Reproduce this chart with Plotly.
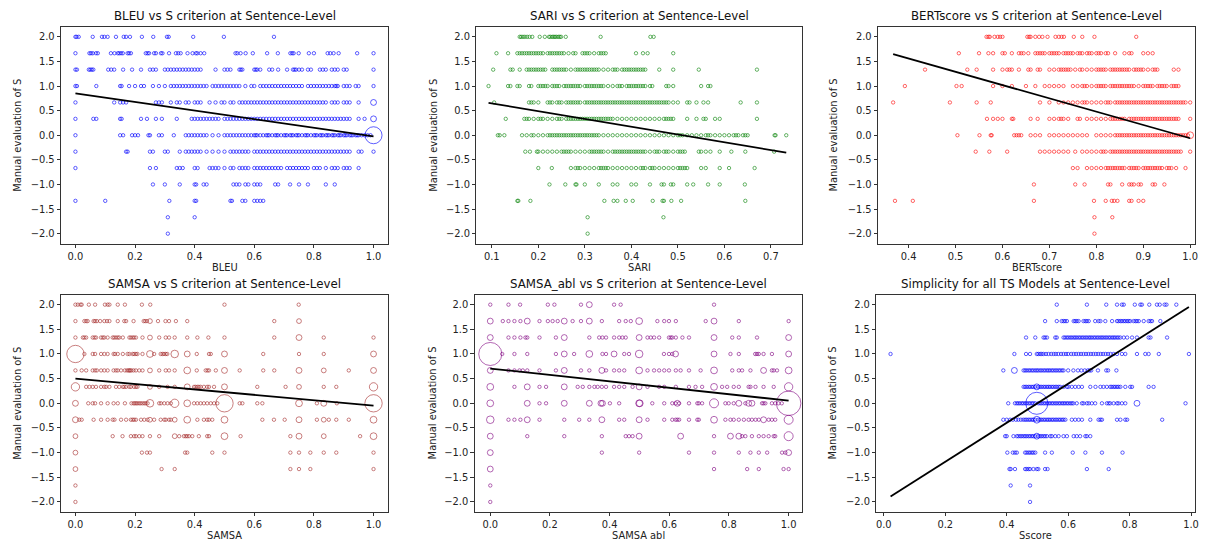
import math
import plotly.graph_objects as go

# ---------------- data ----------------
# manual S levels (rows of the scatter)
s_levels = [2.0, 5/3, 4/3, 1.0, 2/3, 1/3, 0.0, -1/3, -2/3, -1.0, -4/3, -5/3, -2.0]

# BLEU values per S level
bleu_rows = [
    [0, 0.004, 0.011, 0.058, 0.089, 0.097, 0.108, 0.136, 0.162, 0.17, 0.183, 0.223, 0.261, 0.307, 0.313, 0.395, 0.498, 0.666],
    [0, 0.047, 0.052, 0.058, 0.069, 0.075, 0.119, 0.131, 0.142, 0.147, 0.153, 0.159, 0.175, 0.18, 0.186, 0.236, 0.242, 0.247, 0.264, 0.27, 0.287, 0.292, 0.314, 0.337, 0.345, 0.353, 0.376, 0.393, 0.404, 0.409, 0.42, 0.432, 0.537, 0.543, 0.554, 0.571, 0.595, 0.643, 0.679, 0.721, 0.727, 0.732, 0.749, 0.783, 0.8, 0.846, 0.855, 0.866, 0.883, 0.945, 1.0],
    [0, 0.005, 0.045, 0.05, 0.055, 0.06, 0.11, 0.12, 0.13, 0.16, 0.19, 0.22, 0.25, 0.26, 0.27, 0.3, 0.31, 0.32, 0.33, 0.34, 0.35, 0.36, 0.37, 0.38, 0.39, 0.4, 0.41, 0.42, 0.47, 0.5, 0.51, 0.52, 0.55, 0.555, 0.56, 0.6, 0.605, 0.61, 0.62, 0.65, 0.66, 0.68, 0.71, 0.73, 0.735, 0.74, 0.75, 0.76, 0.78, 0.79, 0.82, 0.83, 0.84, 0.86, 0.87, 0.88, 0.9, 0.91, 1.0],
    [0, 0.005, 0.07, 0.15, 0.155, 0.18, 0.2, 0.22, 0.23, 0.26, 0.28, 0.3, 0.32, 0.33, 0.34, 0.35, 0.36, 0.37, 0.38, 0.39, 0.4, 0.41, 0.42, 0.43, 0.44, 0.46, 0.47, 0.48, 0.49, 0.5, 0.51, 0.52, 0.53, 0.54, 0.55, 0.57, 0.59, 0.6, 0.62, 0.63, 0.64, 0.65, 0.66, 0.67, 0.68, 0.69, 0.7, 0.71, 0.72, 0.73, 0.74, 0.75, 0.76, 0.78, 0.79, 0.8, 0.81, 0.82, 0.83, 0.84, 0.85, 0.86, 0.87, 0.875, 0.88, 0.9, 0.91, 0.92, 0.94, 0.95, 1.0],
    [0, 0.13, 0.15, 0.16, 0.17, 0.27, 0.28, 0.29, 0.32, 0.34, 0.35, 0.37, 0.38, 0.4, 0.41, 0.42, 0.45, 0.47, 0.49, 0.5, 0.52, 0.53, 0.55, 0.56, 0.57, 0.58, 0.59, 0.6, 0.61, 0.62, 0.63, 0.64, 0.65, 0.66, 0.67, 0.68, 0.69, 0.7, 0.71, 0.72, 0.73, 0.74, 0.75, 0.76, 0.77, 0.78, 0.79, 0.8, 0.81, 0.82, 0.83, 0.84, 0.86, 0.87, 0.88, 0.9, 0.91, 0.92, 0.95, 1.0],
    [0, 0.06, 0.07, 0.15, 0.155, 0.22, 0.24, 0.27, 0.29, 0.34, 0.39, 0.4, 0.41, 0.42, 0.43, 0.44, 0.45, 0.46, 0.47, 0.48, 0.5, 0.51, 0.52, 0.53, 0.54, 0.55, 0.56, 0.57, 0.58, 0.59, 0.6, 0.61, 0.62, 0.63, 0.64, 0.65, 0.66, 0.67, 0.68, 0.69, 0.7, 0.71, 0.72, 0.73, 0.74, 0.75, 0.76, 0.77, 0.78, 0.79, 0.8, 0.81, 0.82, 0.83, 0.84, 0.85, 0.86, 0.87, 0.88, 0.89, 0.9, 0.91, 0.92, 0.95, 0.97, 1.0],
    [0, 0.15, 0.16, 0.19, 0.2, 0.21, 0.245, 0.25, 0.28, 0.29, 0.33, 0.37, 0.38, 0.39, 0.4, 0.41, 0.42, 0.43, 0.44, 0.46, 0.48, 0.5, 0.51, 0.52, 0.53, 0.54, 0.55, 0.56, 0.57, 0.58, 0.59, 0.6, 0.605, 0.61, 0.62, 0.63, 0.64, 0.645, 0.65, 0.66, 0.67, 0.675, 0.68, 0.69, 0.7, 0.705, 0.71, 0.72, 0.725, 0.73, 0.74, 0.745, 0.75, 0.76, 0.77, 0.775, 0.78, 0.79, 0.8, 0.805, 0.81, 0.82, 0.825, 0.83, 0.84, 0.845, 0.85, 0.86, 0.865, 0.87, 0.88, 0.885, 0.89, 0.9, 0.905, 0.91, 0.92, 0.925, 0.93, 0.94, 0.945, 0.95, 0.96, 0.97, 0.98, 0.99, 1.0],
    [0, 0.17, 0.175, 0.25, 0.26, 0.3, 0.31, 0.35, 0.37, 0.38, 0.39, 0.4, 0.41, 0.42, 0.44, 0.46, 0.48, 0.5, 0.52, 0.53, 0.54, 0.55, 0.56, 0.57, 0.58, 0.6, 0.61, 0.62, 0.63, 0.64, 0.65, 0.66, 0.67, 0.68, 0.69, 0.7, 0.71, 0.72, 0.73, 0.74, 0.75, 0.76, 0.77, 0.78, 0.79, 0.8, 0.81, 0.82, 0.83, 0.84, 0.85, 0.86, 0.87, 0.88, 0.89, 0.9, 0.91, 0.92, 0.95, 0.96, 1.0],
    [0, 0.25, 0.27, 0.34, 0.35, 0.36, 0.4, 0.41, 0.45, 0.46, 0.47, 0.48, 0.5, 0.52, 0.53, 0.55, 0.56, 0.57, 0.58, 0.6, 0.61, 0.62, 0.63, 0.64, 0.65, 0.66, 0.67, 0.68, 0.69, 0.71, 0.72, 0.73, 0.74, 0.75, 0.76, 0.77, 0.78, 0.8, 0.81, 0.82, 0.84, 0.86, 0.87, 0.88, 0.9, 0.91, 0.92, 0.95],
    [0.26, 0.3, 0.35, 0.4, 0.405, 0.43, 0.44, 0.53, 0.54, 0.55, 0.57, 0.58, 0.6, 0.61, 0.62, 0.67, 0.68, 0.72, 0.75, 0.78, 0.84, 0.87],
    [0, 0.1, 0.315, 0.4, 0.405, 0.52, 0.525, 0.56, 0.57, 0.6, 0.61, 0.62, 0.63],
    [0.31, 0.4],
    [0.31],
]
bleu_multi_x = [1.0, 1.0, 1.0]
bleu_multi_y = [0.0, 2/3, 1/3]
bleu_multi_n = [25, 3, 3]

# SARI values per S level
sari_rows = [
    [0.16, 0.163, 0.167, 0.171, 0.176, 0.181, 0.187, 0.203, 0.214, 0.223, 0.226, 0.23, 0.233, 0.236, 0.239, 0.243, 0.246, 0.249, 0.259, 0.334, 0.441, 0.448],
    [0.11, 0.135, 0.155, 0.16, 0.165, 0.17, 0.175, 0.18, 0.185, 0.19, 0.195, 0.2, 0.205, 0.21, 0.22, 0.225, 0.23, 0.235, 0.24, 0.245, 0.25, 0.255, 0.265, 0.275, 0.28, 0.295, 0.3, 0.305, 0.31, 0.32, 0.33, 0.335, 0.34, 0.345, 0.41, 0.425, 0.435, 0.49],
    [0.103, 0.14, 0.145, 0.16, 0.175, 0.18, 0.185, 0.19, 0.195, 0.2, 0.205, 0.21, 0.215, 0.23, 0.235, 0.24, 0.245, 0.25, 0.255, 0.26, 0.27, 0.28, 0.285, 0.29, 0.295, 0.3, 0.305, 0.31, 0.315, 0.32, 0.325, 0.33, 0.34, 0.35, 0.36, 0.365, 0.37, 0.38, 0.385, 0.39, 0.395, 0.4, 0.405, 0.41, 0.415, 0.42, 0.425, 0.43, 0.46, 0.49, 0.545, 0.67],
    [0.093, 0.135, 0.14, 0.155, 0.16, 0.18, 0.185, 0.2, 0.205, 0.21, 0.215, 0.22, 0.23, 0.235, 0.24, 0.245, 0.255, 0.26, 0.265, 0.27, 0.275, 0.28, 0.285, 0.29, 0.3, 0.305, 0.31, 0.315, 0.32, 0.325, 0.33, 0.335, 0.34, 0.35, 0.36, 0.37, 0.375, 0.38, 0.39, 0.395, 0.4, 0.405, 0.41, 0.415, 0.42, 0.425, 0.43, 0.44, 0.445, 0.475, 0.48, 0.49, 0.55, 0.565, 0.57],
    [0.105, 0.18, 0.185, 0.19, 0.2, 0.22, 0.225, 0.23, 0.24, 0.245, 0.25, 0.26, 0.265, 0.27, 0.275, 0.28, 0.285, 0.29, 0.3, 0.305, 0.31, 0.315, 0.32, 0.325, 0.33, 0.335, 0.34, 0.345, 0.35, 0.355, 0.36, 0.365, 0.37, 0.375, 0.38, 0.385, 0.39, 0.395, 0.4, 0.405, 0.41, 0.415, 0.42, 0.425, 0.43, 0.435, 0.44, 0.445, 0.45, 0.455, 0.46, 0.465, 0.47, 0.475, 0.48, 0.49, 0.5, 0.52, 0.525, 0.54, 0.555, 0.565, 0.635, 0.67],
    [0.13, 0.17, 0.175, 0.18, 0.19, 0.2, 0.205, 0.21, 0.22, 0.23, 0.24, 0.245, 0.25, 0.26, 0.265, 0.27, 0.275, 0.28, 0.285, 0.29, 0.295, 0.3, 0.305, 0.31, 0.315, 0.32, 0.325, 0.33, 0.335, 0.34, 0.345, 0.35, 0.355, 0.36, 0.37, 0.38, 0.39, 0.4, 0.41, 0.42, 0.43, 0.44, 0.45, 0.46, 0.47, 0.475, 0.48, 0.485, 0.49, 0.52, 0.54, 0.555, 0.56, 0.58, 0.59, 0.67],
    [0.113, 0.117, 0.127, 0.165, 0.175, 0.185, 0.19, 0.2, 0.21, 0.22, 0.225, 0.23, 0.235, 0.24, 0.245, 0.25, 0.255, 0.26, 0.265, 0.27, 0.275, 0.28, 0.285, 0.29, 0.295, 0.3, 0.305, 0.31, 0.315, 0.32, 0.325, 0.33, 0.34, 0.35, 0.36, 0.37, 0.38, 0.39, 0.4, 0.41, 0.42, 0.43, 0.44, 0.45, 0.46, 0.47, 0.48, 0.49, 0.5, 0.505, 0.51, 0.52, 0.53, 0.54, 0.55, 0.56, 0.565, 0.57, 0.58, 0.59, 0.6, 0.61, 0.62, 0.625, 0.63, 0.64, 0.645, 0.65, 0.708, 0.71, 0.733],
    [0.172, 0.182, 0.197, 0.2, 0.21, 0.22, 0.23, 0.24, 0.25, 0.255, 0.26, 0.265, 0.27, 0.28, 0.29, 0.3, 0.31, 0.315, 0.32, 0.325, 0.33, 0.335, 0.34, 0.35, 0.36, 0.365, 0.37, 0.375, 0.38, 0.385, 0.39, 0.395, 0.4, 0.405, 0.41, 0.415, 0.42, 0.425, 0.43, 0.44, 0.45, 0.455, 0.46, 0.47, 0.475, 0.48, 0.49, 0.5, 0.505, 0.51, 0.515, 0.545, 0.55, 0.56, 0.57, 0.59, 0.615, 0.645, 0.707],
    [0.2, 0.229, 0.27, 0.28, 0.285, 0.29, 0.3, 0.31, 0.32, 0.33, 0.335, 0.34, 0.345, 0.35, 0.36, 0.37, 0.38, 0.39, 0.4, 0.41, 0.42, 0.425, 0.43, 0.44, 0.445, 0.45, 0.46, 0.47, 0.48, 0.49, 0.5, 0.505, 0.51, 0.515, 0.52, 0.55, 0.56, 0.59, 0.61, 0.665],
    [0.224, 0.258, 0.28, 0.282, 0.3, 0.33, 0.36, 0.37, 0.4, 0.41, 0.44, 0.465, 0.47, 0.485, 0.49, 0.52, 0.533, 0.565, 0.59, 0.644],
    [0.155, 0.157, 0.183, 0.342, 0.362, 0.37, 0.388, 0.403, 0.446, 0.467, 0.47, 0.486, 0.507, 0.645],
    [0.306, 0.469],
    [0.306],
]
sari_multi_x = []
sari_multi_y = []
sari_multi_n = []

# BERTscore values per S level
bert_rows = [
    [0.566, 0.57, 0.573, 0.583, 0.59, 0.595, 0.6, 0.653, 0.657, 0.66, 0.67, 0.678, 0.685, 0.696, 0.713, 0.72, 0.726, 0.731, 0.752, 0.77, 0.796, 0.885],
    [0.507, 0.55, 0.57, 0.58, 0.6, 0.605, 0.62, 0.635, 0.64, 0.645, 0.655, 0.67, 0.675, 0.68, 0.685, 0.69, 0.7, 0.705, 0.71, 0.715, 0.72, 0.73, 0.735, 0.74, 0.745, 0.75, 0.76, 0.765, 0.77, 0.78, 0.785, 0.79, 0.8, 0.805, 0.81, 0.82, 0.825, 0.84, 0.86, 0.87, 0.875, 0.9, 0.91, 0.92],
    [0.435, 0.525, 0.545, 0.58, 0.6, 0.61, 0.615, 0.62, 0.635, 0.655, 0.66, 0.675, 0.68, 0.7, 0.71, 0.72, 0.725, 0.73, 0.735, 0.74, 0.745, 0.755, 0.765, 0.77, 0.78, 0.79, 0.8, 0.805, 0.81, 0.815, 0.82, 0.83, 0.835, 0.84, 0.845, 0.85, 0.855, 0.86, 0.865, 0.87, 0.88, 0.885, 0.89, 0.895, 0.9, 0.91, 0.92, 0.925, 0.93, 0.965, 0.975],
    [0.392, 0.502, 0.513, 0.58, 0.6, 0.62, 0.65, 0.67, 0.69, 0.7, 0.71, 0.72, 0.73, 0.75, 0.76, 0.77, 0.775, 0.78, 0.79, 0.8, 0.805, 0.81, 0.815, 0.82, 0.83, 0.835, 0.84, 0.845, 0.85, 0.855, 0.86, 0.865, 0.87, 0.875, 0.88, 0.89, 0.9, 0.905, 0.91, 0.915, 0.92, 0.93, 0.935, 0.94, 0.945, 0.95, 0.96, 0.965, 0.97, 0.975],
    [0.367, 0.488, 0.545, 0.575, 0.68, 0.7, 0.72, 0.73, 0.74, 0.75, 0.76, 0.77, 0.775, 0.78, 0.79, 0.8, 0.81, 0.82, 0.825, 0.83, 0.84, 0.845, 0.85, 0.855, 0.86, 0.865, 0.87, 0.875, 0.88, 0.885, 0.89, 0.895, 0.9, 0.905, 0.91, 0.915, 0.92, 0.925, 0.93, 0.935, 0.94, 0.945, 0.95, 0.955, 0.96, 0.965, 0.97, 0.975, 0.98, 0.985, 0.99, 1.0],
    [0.567, 0.58, 0.59, 0.6, 0.62, 0.623, 0.66, 0.675, 0.7, 0.71, 0.72, 0.725, 0.73, 0.74, 0.76, 0.765, 0.78, 0.79, 0.8, 0.81, 0.82, 0.83, 0.835, 0.84, 0.845, 0.85, 0.855, 0.86, 0.87, 0.875, 0.88, 0.885, 0.89, 0.895, 0.9, 0.905, 0.91, 0.915, 0.92, 0.925, 0.93, 0.935, 0.94, 0.945, 0.95, 0.955, 0.96, 0.965, 0.97, 0.975, 1.0],
    [0.504, 0.551, 0.575, 0.577, 0.625, 0.63, 0.635, 0.64, 0.66, 0.67, 0.68, 0.7, 0.71, 0.72, 0.73, 0.74, 0.75, 0.76, 0.77, 0.78, 0.8, 0.81, 0.82, 0.83, 0.84, 0.845, 0.85, 0.855, 0.86, 0.865, 0.87, 0.875, 0.88, 0.885, 0.89, 0.895, 0.9, 0.905, 0.91, 0.915, 0.92, 0.925, 0.93, 0.935, 0.94, 0.945, 0.95, 0.955, 0.96, 0.965, 0.97, 0.975, 0.98, 0.985, 0.99, 0.995, 1.0],
    [0.543, 0.572, 0.61, 0.68, 0.69, 0.7, 0.71, 0.72, 0.73, 0.74, 0.755, 0.77, 0.78, 0.79, 0.8, 0.81, 0.815, 0.82, 0.83, 0.835, 0.84, 0.845, 0.85, 0.855, 0.86, 0.865, 0.87, 0.875, 0.88, 0.885, 0.89, 0.895, 0.9, 0.905, 0.91, 0.915, 0.92, 0.925, 0.93, 0.935, 0.94, 0.945, 0.95, 0.955, 0.96, 0.965, 0.97, 0.975, 0.98, 1.0],
    [0.75, 0.76, 0.78, 0.79, 0.8, 0.81, 0.82, 0.825, 0.83, 0.835, 0.84, 0.845, 0.85, 0.855, 0.86, 0.87, 0.875, 0.88, 0.885, 0.89, 0.9, 0.905, 0.91, 0.915, 0.92, 0.925, 0.93, 0.935, 0.94, 0.95, 0.955, 0.96, 0.97, 0.99],
    [0.667, 0.755, 0.775, 0.825, 0.83, 0.855, 0.87, 0.875, 0.88, 0.89, 0.895, 0.92, 0.925, 0.945],
    [0.371, 0.409, 0.667, 0.795, 0.82, 0.833, 0.838, 0.845, 0.87, 0.875, 0.89, 0.9],
    [0.796, 0.834],
    [0.796],
]
bert_multi_x = [1.0]
bert_multi_y = [0.0]
bert_multi_n = [4]

# SAMSA values per S level
samsa_rows = [
    [0, 0.008, 0.017, 0.021, 0.045, 0.066, 0.099, 0.108, 0.114, 0.142, 0.166, 0.223, 0.251, 0.5, 0.749],
    [0, 0.03, 0.036, 0.041, 0.061, 0.066, 0.072, 0.083, 0.097, 0.106, 0.114, 0.142, 0.164, 0.17, 0.195, 0.229, 0.234, 0.24, 0.25, 0.277, 0.302, 0.314, 0.337, 0.375, 0.667, 0.75],
    [0, 0.025, 0.03, 0.036, 0.058, 0.064, 0.069, 0.086, 0.092, 0.097, 0.108, 0.125, 0.13, 0.136, 0.142, 0.147, 0.159, 0.181, 0.186, 0.192, 0.197, 0.203, 0.225, 0.25, 0.281, 0.303, 0.314, 0.333, 0.375, 0.409, 0.446, 0.5, 0.667, 0.75, 0.833, 1.0],
    [0, 0.03, 0.058, 0.066, 0.086, 0.097, 0.108, 0.128, 0.133, 0.142, 0.159, 0.175, 0.181, 0.192, 0.197, 0.203, 0.208, 0.225, 0.25, 0.264, 0.286, 0.292, 0.297, 0.303, 0.308, 0.333, 0.375, 0.407, 0.448, 0.454, 0.5, 0.63, 0.75, 0.833, 1.0],
    [0, 0.021, 0.036, 0.058, 0.066, 0.072, 0.086, 0.097, 0.108, 0.128, 0.136, 0.142, 0.153, 0.166, 0.173, 0.178, 0.181, 0.184, 0.188, 0.195, 0.203, 0.214, 0.225, 0.25, 0.281, 0.303, 0.314, 0.333, 0.375, 0.407, 0.437, 0.443, 0.448, 0.471, 0.5, 0.551, 0.63, 0.667, 0.75, 0.833, 0.917, 1.0],
    [0, 0.036, 0.047, 0.058, 0.069, 0.086, 0.097, 0.103, 0.114, 0.136, 0.147, 0.159, 0.164, 0.17, 0.181, 0.186, 0.197, 0.203, 0.208, 0.25, 0.281, 0.309, 0.333, 0.375, 0.398, 0.403, 0.409, 0.414, 0.42, 0.431, 0.442, 0.448, 0.465, 0.5, 0.61, 0.705, 0.75, 0.833, 0.875, 1.0],
    [0, 0.043, 0.058, 0.066, 0.086, 0.108, 0.128, 0.142, 0.166, 0.188, 0.195, 0.199, 0.204, 0.208, 0.214, 0.219, 0.225, 0.231, 0.236, 0.242, 0.25, 0.281, 0.287, 0.298, 0.309, 0.32, 0.333, 0.375, 0.398, 0.409, 0.42, 0.431, 0.442, 0.454, 0.465, 0.476, 0.5, 0.551, 0.56, 0.61, 0.627, 0.75, 0.81, 0.833, 0.877, 1.0],
    [0, 0.013, 0.021, 0.061, 0.086, 0.108, 0.125, 0.131, 0.153, 0.17, 0.186, 0.192, 0.197, 0.203, 0.22, 0.231, 0.242, 0.25, 0.264, 0.286, 0.298, 0.303, 0.314, 0.32, 0.333, 0.375, 0.409, 0.431, 0.442, 0.448, 0.459, 0.5, 0.627, 0.666, 0.702, 0.75, 0.81, 0.833, 0.85, 0.875, 0.917, 1.0],
    [0, 0.125, 0.158, 0.186, 0.197, 0.203, 0.214, 0.225, 0.25, 0.281, 0.333, 0.348, 0.364, 0.37, 0.375, 0.381, 0.392, 0.414, 0.442, 0.448, 0.5, 0.554, 0.721, 0.75, 0.833, 0.955, 1.0],
    [0, 0.223, 0.24, 0.25, 0.368, 0.375, 0.459, 0.5, 0.721, 0.75, 0.788, 0.833, 0.875, 1.0],
    [0, 0.289, 0.333, 0.721, 0.75, 0.788, 1.0],
    [0],
    [0],
]
samsa_multi_x = [0, 0, 0, 0, 0, 0, 0,
                 0.25, 0.25, 0.25, 0.25, 0.25, 0.25, 0.25,
                 0.333, 0.333, 0.333, 0.333,
                 0.375, 0.375, 0.375, 0.375, 0.375,
                 0.5, 0.5, 0.5, 0.5, 0.5, 0.5,
                 0.75, 0.75, 0.75, 0.75, 0.75, 0.75, 0.75,
                 0.833, 0.833, 0.833, 0.833,
                 1.0, 1.0, 1.0, 1.0, 1.0, 1.0]
samsa_multi_y = [1.0, 1/3, 0.0, -1/3, -2/3, -1.0, -4/3,
                 5/3, 4/3, 1.0, 2/3, 1/3, 0.0, -1/3,
                 1.0, 0.0, -1/3, -2/3,
                 1.0, 2/3, 1/3, 0.0, -1/3,
                 1.0, 2/3, 1/3, 0.0, -1/3, -2/3,
                 5/3, 4/3, 2/3, 1/3, 0.0, -1/3, -2/3,
                 2/3, 0.0, -1/3, -2/3,
                 1.0, 2/3, 1/3, 0.0, -1/3, -2/3]
samsa_multi_n = [26, 6, 3, 3, 2, 2, 2,
                 2, 2, 4, 2, 2, 5, 2,
                 5, 6, 2, 2,
                 3, 4, 3, 4, 4,
                 3, 3, 3, 26, 4, 4,
                 2, 3, 3, 2, 4, 3, 3,
                 2, 3, 2, 2,
                 3, 3, 6, 26, 4, 4]

# SAMSA abl values per S level
abl_rows = [
    [0, 0.061, 0.1, 0.193, 0.215, 0.304, 0.332, 0.415, 0.437, 0.75],
    [0, 0.042, 0.061, 0.081, 0.101, 0.124, 0.165, 0.193, 0.209, 0.226, 0.248, 0.276, 0.304, 0.332, 0.374, 0.432, 0.454, 0.471, 0.499, 0.56, 0.583, 0.599, 0.622, 0.722, 0.75, 0.833, 1.0],
    [0, 0.061, 0.081, 0.101, 0.118, 0.124, 0.165, 0.22, 0.248, 0.332, 0.365, 0.376, 0.388, 0.415, 0.432, 0.443, 0.454, 0.499, 0.527, 0.538, 0.549, 0.566, 0.599, 0.605, 0.61, 0.622, 0.644, 0.666, 0.75, 0.811, 0.833, 0.894, 1.0],
    [0, 0.04, 0.081, 0.124, 0.22, 0.248, 0.281, 0.332, 0.376, 0.388, 0.415, 0.449, 0.465, 0.499, 0.582, 0.599, 0.61, 0.621, 0.75, 0.805, 0.833, 0.888, 0.894, 0.9, 0.916, 0.944, 1.0],
    [0, 0.061, 0.081, 0.098, 0.109, 0.124, 0.165, 0.22, 0.248, 0.304, 0.332, 0.374, 0.388, 0.415, 0.432, 0.449, 0.499, 0.527, 0.549, 0.566, 0.583, 0.599, 0.622, 0.638, 0.666, 0.705, 0.75, 0.811, 0.833, 0.844, 0.872, 0.916, 0.944, 0.95, 0.961, 1.0],
    [0, 0.081, 0.124, 0.165, 0.187, 0.248, 0.293, 0.31, 0.332, 0.349, 0.36, 0.374, 0.388, 0.415, 0.432, 0.449, 0.477, 0.499, 0.527, 0.566, 0.583, 0.622, 0.666, 0.688, 0.71, 0.75, 0.777, 0.794, 0.816, 0.833, 0.866, 0.872, 0.889, 0.916, 0.95, 1.0],
    [0, 0.124, 0.165, 0.187, 0.248, 0.332, 0.371, 0.376, 0.401, 0.432, 0.499, 0.501, 0.543, 0.583, 0.61, 0.621, 0.627, 0.633, 0.666, 0.694, 0.699, 0.71, 0.75, 0.788, 0.799, 0.816, 0.833, 0.855, 0.866, 0.877, 0.911, 0.916, 0.922, 0.944, 0.955, 0.966, 0.977, 1.0],
    [0, 0.061, 0.081, 0.101, 0.124, 0.165, 0.248, 0.298, 0.332, 0.374, 0.432, 0.449, 0.499, 0.527, 0.583, 0.61, 0.621, 0.627, 0.633, 0.666, 0.694, 0.699, 0.75, 0.788, 0.805, 0.816, 0.833, 0.85, 0.866, 0.877, 0.889, 0.9, 0.916, 0.933, 0.944, 0.955, 1.0],
    [0, 0.124, 0.248, 0.374, 0.454, 0.465, 0.477, 0.499, 0.638, 0.75, 0.805, 0.833, 0.844, 0.855, 0.877, 0.9, 0.916, 0.933, 0.95, 0.955, 1.0],
    [0, 0.374, 0.499, 0.666, 0.75, 0.833, 0.872, 0.9, 0.928, 0.978, 0.989, 1.0],
    [0, 0.75, 0.861, 0.9, 0.983, 1.0],
    [0],
    [0],
]
abl_multi_x = [0, 0, 0, 0, 0, 0, 0, 0, 0, 0,
               0.124, 0.124, 0.124, 0.124,
               0.248, 0.248, 0.248, 0.248, 0.248, 0.248,
               0.332, 0.332, 0.332, 0.332,
               0.374, 0.374, 0.374, 0.415,
               0.499, 0.499, 0.499, 0.499, 0.499, 0.499, 0.499, 0.499,
               0.621, 0.627, 0.638,
               0.75, 0.75, 0.75, 0.75, 0.75, 0.75, 0.75,
               0.805, 0.833, 0.833, 0.866, 0.877, 0.916, 0.916,
               1.0, 1.0, 1.0, 1.0, 1.0, 1.0, 1.0, 1.0]
abl_multi_y = [1.0, 5/3, 4/3, 2/3, 1/3, 0.0, -1/3, -2/3, -1.0, -4/3,
               5/3, 1/3, 0.0, -1/3,
               5/3, 4/3, 1.0, 2/3, 1/3, 0.0,
               2.0, 5/3, 1.0, 0.0,
               2/3, 0.0, -1/3, 1.0,
               5/3, 4/3, 1.0, 2/3, 1/3, 0.0, -1/3, -2/3,
               1.0, 0.0, -2/3,
               5/3, 4/3, 1.0, 2/3, 1/3, 0.0, -1/3,
               -2/3, 0.0, -2/3, 0.0, 0.0, 2/3, -1/3,
               0.0, 4/3, 1.0, 2/3, 1/3, -1/3, -2/3, -1.0]
abl_multi_n = [46, 3, 3, 3, 4, 4, 5, 3, 3, 3,
               3, 3, 3, 3,
               3, 3, 3, 3, 3, 3,
               3, 3, 4, 3,
               3, 3, 3, 3,
               4, 3, 5, 4, 3, 4, 3, 3,
               3, 3, 3,
               3, 3, 3, 4, 4, 7, 4,
               3, 3, 3, 3, 3, 3, 3,
               52, 3, 3, 4, 6, 7, 7, 3]

# Sscore values per S level
sscore_rows = [
    [0.563, 0.661, 0.724, 0.759, 0.775, 0.781, 0.817, 0.835, 0.84, 0.864, 0.889, 0.898, 0.914, 0.92, 0.952],
    [0.525, 0.563, 0.579, 0.585, 0.59, 0.596, 0.618, 0.623, 0.628, 0.634, 0.65, 0.656, 0.661, 0.667, 0.688, 0.699, 0.705, 0.721, 0.743, 0.759, 0.764, 0.77, 0.775, 0.781, 0.786, 0.792, 0.797, 0.802, 0.813, 0.819, 0.824, 0.83, 0.846, 0.862, 0.868, 0.873, 0.9],
    [0.463, 0.493, 0.52, 0.525, 0.531, 0.558, 0.563, 0.585, 0.59, 0.596, 0.601, 0.607, 0.612, 0.618, 0.623, 0.628, 0.634, 0.639, 0.645, 0.65, 0.656, 0.661, 0.667, 0.672, 0.677, 0.683, 0.688, 0.694, 0.699, 0.705, 0.71, 0.715, 0.721, 0.726, 0.732, 0.737, 0.743, 0.748, 0.753, 0.759, 0.764, 0.77, 0.781, 0.792, 0.808, 0.824, 0.862, 0.868, 0.922],
    [0.022, 0.425, 0.463, 0.476, 0.498, 0.503, 0.509, 0.514, 0.52, 0.528, 0.536, 0.545, 0.553, 0.56, 0.568, 0.577, 0.585, 0.593, 0.6, 0.61, 0.618, 0.626, 0.634, 0.642, 0.65, 0.658, 0.666, 0.674, 0.682, 0.69, 0.698, 0.706, 0.714, 0.722, 0.73, 0.738, 0.748, 0.759, 0.775, 0.786, 0.824, 0.851, 0.862, 0.895, 0.993],
    [0.389, 0.425, 0.455, 0.46, 0.465, 0.471, 0.476, 0.482, 0.487, 0.493, 0.498, 0.503, 0.509, 0.514, 0.52, 0.525, 0.531, 0.536, 0.541, 0.547, 0.552, 0.558, 0.563, 0.569, 0.574, 0.58, 0.585, 0.6, 0.617, 0.632, 0.643, 0.654, 0.664, 0.67, 0.675, 0.697, 0.724, 0.73, 0.757],
    [0.455, 0.46, 0.465, 0.471, 0.476, 0.482, 0.487, 0.493, 0.498, 0.503, 0.509, 0.514, 0.52, 0.525, 0.531, 0.536, 0.541, 0.547, 0.552, 0.558, 0.563, 0.569, 0.574, 0.585, 0.596, 0.601, 0.612, 0.623, 0.634, 0.645, 0.672, 0.689, 0.705, 0.715, 0.726, 0.737, 0.742, 0.748, 0.753, 0.759, 0.764, 0.77, 0.786, 0.802, 0.808, 0.862, 0.878],
    [0.405, 0.427, 0.433, 0.438, 0.443, 0.449, 0.454, 0.46, 0.465, 0.471, 0.476, 0.482, 0.487, 0.493, 0.498, 0.503, 0.509, 0.514, 0.52, 0.525, 0.531, 0.536, 0.541, 0.547, 0.552, 0.558, 0.563, 0.569, 0.574, 0.58, 0.585, 0.59, 0.596, 0.601, 0.607, 0.612, 0.617, 0.628, 0.645, 0.65, 0.661, 0.667, 0.677, 0.688, 0.71, 0.726, 0.732, 0.737, 0.748, 0.759, 0.764, 0.775, 0.786, 0.824, 0.982],
    [0.389, 0.4, 0.411, 0.42, 0.43, 0.438, 0.446, 0.454, 0.46, 0.465, 0.471, 0.476, 0.482, 0.487, 0.493, 0.498, 0.503, 0.509, 0.514, 0.52, 0.525, 0.531, 0.536, 0.541, 0.547, 0.552, 0.558, 0.563, 0.569, 0.574, 0.58, 0.585, 0.591, 0.612, 0.623, 0.634, 0.645, 0.672, 0.699, 0.705, 0.71, 0.759, 0.77, 0.786, 0.792, 0.906],
    [0.395, 0.4, 0.422, 0.433, 0.438, 0.444, 0.449, 0.455, 0.46, 0.465, 0.471, 0.476, 0.482, 0.487, 0.493, 0.498, 0.503, 0.509, 0.514, 0.52, 0.525, 0.531, 0.542, 0.547, 0.558, 0.569, 0.585, 0.596, 0.618, 0.628, 0.639, 0.656, 0.661, 0.672],
    [0.402, 0.42, 0.427, 0.433, 0.46, 0.465, 0.471, 0.476, 0.482, 0.487, 0.493, 0.525, 0.547, 0.615, 0.656, 0.71, 0.777],
    [0.409, 0.413, 0.427, 0.46, 0.465, 0.471, 0.476, 0.487, 0.498, 0.503, 0.525, 0.533, 0.661, 0.732],
    [0.413, 0.476],
    [0.476],
]
sscore_multi_x = [0.498, 0.498, 0.498, 0.498, 0.425, 0.824]
sscore_multi_y = [0.0, -1/3, -2/3, 1/3, 2/3, 0.0]
sscore_multi_n = [42, 4, 3, 3, 3, 3]

# fitted regression lines (slope, intercept)
fit_slope = [-0.877, -1.58, -2.701, -0.547, -0.651, 3.957]
fit_intercept = [0.853, 0.805, 2.64, 0.5, 0.705, -1.977]

titles = ["BLEU vs S criterion at Sentence-Level",
          "SARI vs S criterion at Sentence-Level",
          "BERTscore vs S criterion at Sentence-Level",
          "SAMSA vs S criterion at Sentence-Level",
          "SAMSA_abl vs S criterion at Sentence-Level",
          "Simplicity for all TS Models at Sentence-Level"]
xlabels = ["BLEU", "SARI", "BERTscore", "SAMSA", "SAMSA abl", "Sscore"]
ylabel = "Manual evaluation of S"
y_ticks = [-2.0, -1.5, -1.0, -0.5, 0.0, 0.5, 1.0, 1.5, 2.0]
x_ticks = [[0.0, 0.2, 0.4, 0.6, 0.8, 1.0],
           [0.1, 0.2, 0.3, 0.4, 0.5, 0.6, 0.7],
           [0.4, 0.5, 0.6, 0.7, 0.8, 0.9, 1.0],
           [0.0, 0.2, 0.4, 0.6, 0.8, 1.0],
           [0.0, 0.2, 0.4, 0.6, 0.8, 1.0],
           [0.0, 0.2, 0.4, 0.6, 0.8, 1.0]]

# ---------------- styling / layout ----------------
W, H = 1208, 539
FONT = "DejaVu Sans"
colors = ["rgba(0,0,255,0.9)", "rgba(0,128,0,0.85)", "rgba(255,0,0,0.85)",
          "rgba(165,42,42,0.85)", "rgba(128,0,128,0.85)", "rgba(0,0,255,0.9)"]
# axes boxes in pixels: (left, right, top, bottom)
boxes = [(53.3, 381.7, 19.0, 235.5), (470.0, 796.7, 19.0, 235.5), (873.0, 1191.3, 19.0, 235.5),
         (53.3, 381.7, 286.8, 503.8), (468.3, 796.7, 286.8, 503.8), (871.3, 1191.3, 286.8, 503.8)]
x_ranges = [[-0.048, 1.05], [0.067, 0.767], [0.335, 1.011],
            [-0.048, 1.05], [-0.052, 1.045], [-0.024, 1.014]]
y_range = [-2.2, 2.2]
ylabel_x = [9.5, 427.0, 828.0, 9.5, 425.5, 827.0]

panels = [
    (bleu_rows, bleu_multi_x, bleu_multi_y, bleu_multi_n),
    (sari_rows, sari_multi_x, sari_multi_y, sari_multi_n),
    (bert_rows, bert_multi_x, bert_multi_y, bert_multi_n),
    (samsa_rows, samsa_multi_x, samsa_multi_y, samsa_multi_n),
    (abl_rows, abl_multi_x, abl_multi_y, abl_multi_n),
    (sscore_rows, sscore_multi_x, sscore_multi_y, sscore_multi_n),
]

BASE = 3.4

fig = go.Figure()
annotations = []
layout_axes = {}

for i, (rows, mx, my, mn) in enumerate(panels):
    k = i + 1
    xs, ys, ss = [], [], []
    for lvl, row in zip(s_levels, rows):
        for xv in row:
            n = 1
            for a, b, c in zip(mx, my, mn):
                if abs(a - xv) < 0.004 and abs(b - lvl) < 0.01:
                    n = c
            xs.append(xv)
            ys.append(lvl)
            ss.append(BASE * math.sqrt(n))
    for a, b, c in zip(mx, my, mn):
        found = any(abs(a - xv) < 0.004 and abs(b - lvl) < 0.01
                    for lvl, row in zip(s_levels, rows) for xv in row)
        if not found:
            xs.append(a)
            ys.append(b)
            ss.append(BASE * math.sqrt(c))
    xname = "x" if k == 1 else f"x{k}"
    yname = "y" if k == 1 else f"y{k}"
    fig.add_trace(go.Scatter(
        x=xs, y=ys, mode="markers", xaxis=xname, yaxis=yname,
        marker=dict(symbol="circle-open", size=ss, color=colors[i],
                    line=dict(width=1, color=colors[i])),
        showlegend=False, hoverinfo="skip"))
    x0 = min(xs)
    x1 = max(xs)
    fig.add_trace(go.Scatter(
        x=[x0, x1],
        y=[fit_intercept[i] + fit_slope[i] * x0, fit_intercept[i] + fit_slope[i] * x1],
        mode="lines", xaxis=xname, yaxis=yname,
        line=dict(color="black", width=1.8), showlegend=False, hoverinfo="skip"))

    L, R, T, B = boxes[i]
    axcommon = dict(showline=True, mirror=True, linecolor="#333333", linewidth=1,
                    ticks="outside", ticklen=3.5, tickwidth=1, tickcolor="#333333",
                    showgrid=False, zeroline=False, tickformat=".1f",
                    tickfont=dict(family=FONT, size=9.9, color="#222222"))
    layout_axes["xaxis" if k == 1 else f"xaxis{k}"] = dict(
        domain=[L / W, R / W], range=x_ranges[i], anchor=yname,
        tickvals=x_ticks[i], **axcommon)
    layout_axes["yaxis" if k == 1 else f"yaxis{k}"] = dict(
        domain=[1 - B / H, 1 - T / H], range=y_range, anchor=xname,
        tickvals=y_ticks, **axcommon)

    cx = (L + R) / 2
    annotations.append(dict(text=titles[i], x=cx / W, y=1 - (T - 10.5) / H,
                            xref="paper", yref="paper", showarrow=False,
                            xanchor="center", yanchor="middle",
                            font=dict(family=FONT, size=11.8, color="#111111")))
    annotations.append(dict(text=xlabels[i], x=cx / W, y=1 - (B + 23.5) / H,
                            xref="paper", yref="paper", showarrow=False,
                            xanchor="center", yanchor="middle",
                            font=dict(family=FONT, size=9.9, color="#222222")))
    annotations.append(dict(text=ylabel, x=ylabel_x[i] / W, y=1 - ((T + B) / 2) / H,
                            xref="paper", yref="paper", showarrow=False, textangle=-90,
                            xanchor="center", yanchor="middle",
                            font=dict(family=FONT, size=9.9, color="#222222")))

fig.update_layout(width=W, height=H, margin=dict(l=0, r=0, t=0, b=0),
                  paper_bgcolor="white", plot_bgcolor="white",
                  annotations=annotations, **layout_axes)

fig.write_html("out.html")
